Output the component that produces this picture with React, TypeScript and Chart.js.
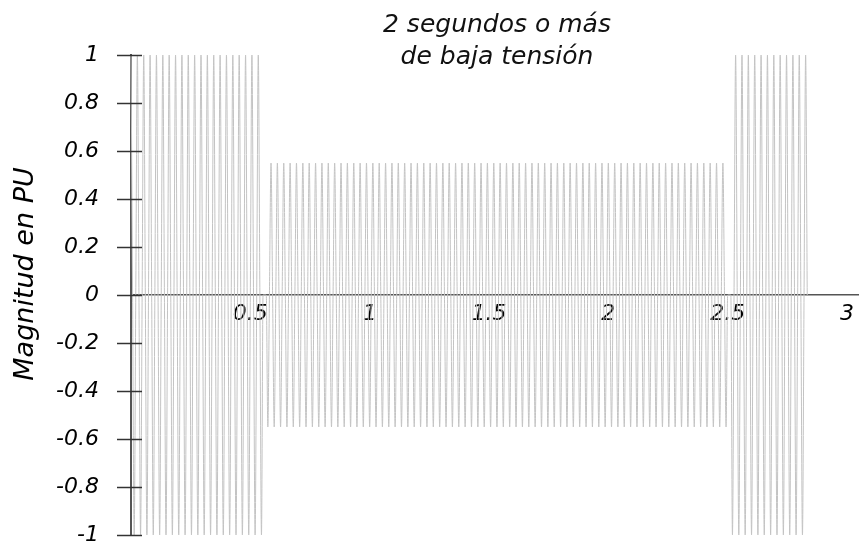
import React, { useEffect, useRef } from "react";
import { Chart, registerables } from "chart.js";

Chart.register(...registerables);

// ---- Data ----
const titleLines = ["2 segundos o más", "de baja tensión"];
const yAxisTitle = "Magnitud en PU";
// waveform envelope: three segments of a sinusoid (normal / sag / normal)
const segmentStarts = [0, 0.562, 2.51];
const segmentEnds = [0.562, 2.51, 2.845];
const segmentAmplitudes = [1, 0.55, 1];
const cyclesPerUnit = [37.5, 37.5, 37.5];
const xTickValues = [0.5, 1, 1.5, 2, 2.5, 3];
const yTickValues = [-1, -0.8, -0.6, -0.4, -0.2, 0, 0.2, 0.4, 0.6, 0.8, 1];
const xMin = 0;
const xMax = 3.05;
const yMin = -1;
const yMax = 1;

const FONT = '"DejaVu Sans", Verdana, sans-serif';

// samples at peaks and zero crossings (quarter cycles) of each segment
function buildWave() {
  const pts: { x: number; y: number }[] = [];
  const shape = [1, 0, -1, 0];
  for (let s = 0; s < segmentStarts.length; s++) {
    const f = cyclesPerUnit[s];
    const a = segmentAmplitudes[s];
    const k0 = Math.ceil(segmentStarts[s] * f * 4);
    const k1 = Math.floor(segmentEnds[s] * f * 4);
    for (let k = k0; k < k1; k++) {
      pts.push({ x: k / (f * 4), y: a * shape[k % 4] });
    }
  }
  return pts;
}

const fmt = (v: number) => String(Math.round(v * 10) / 10);

export default function App() {
  const ref = useRef<HTMLCanvasElement | null>(null);
  useEffect(() => {
    if (!ref.current) return;
    const textPlugin = {
      id: "titles",
      afterDraw(chart: any) {
        const { ctx, chartArea } = chart;
        ctx.save();
        ctx.fillStyle = "#111";
        // two-line chart title
        ctx.font = `italic 25px ${FONT}`;
        ctx.textAlign = "center";
        ctx.textBaseline = "middle";
        const cx = (chartArea.left + chartArea.right) / 2 + 2;
        titleLines.forEach((t, i) => ctx.fillText(t, cx, 25 + i * 32));
        // rotated y-axis title
        ctx.font = `italic 27px ${FONT}`;
        ctx.textBaseline = "alphabetic";
        ctx.translate(33, 274);
        ctx.rotate(-Math.PI / 2);
        ctx.fillStyle = "#000";
        ctx.fillText(yAxisTitle, 0, 0);
        ctx.restore();
      },
    };
    const tickPlugin = {
      id: "crossTicks",
      afterDatasetsDraw(chart: any) {
        const { ctx, chartArea } = chart;
        const ys = chart.scales.y;
        ctx.save();
        ctx.strokeStyle = "#333";
        ctx.lineWidth = 1.5;
        ys.ticks.forEach((t: any) => {
          const py = Math.round(ys.getPixelForValue(t.value)) + 0.5;
          ctx.beginPath();
          ctx.moveTo(chartArea.left - 14, py);
          ctx.lineTo(chartArea.left + 11, py);
          ctx.stroke();
        });
        ctx.restore();
      },
    };
    const chart = new Chart(ref.current, {
      type: "line",
      data: {
        datasets: [
          {
            data: buildWave(),
            borderColor: "rgb(195,195,195)",
            borderWidth: 1,
            pointRadius: 0,
            cubicInterpolationMode: "monotone",
            fill: false,
            clip: false as any,
          },
        ],
      },
      options: {
        animation: false,
        responsive: false,
        parsing: false,
        normalized: true,
        events: [],
        layout: { padding: { top: 55, bottom: 8, left: 0, right: 0 } },
        plugins: {
          legend: { display: false },
          title: { display: false },
          tooltip: { enabled: false },
        },
        scales: {
          x: {
            type: "linear",
            min: xMin,
            max: xMax,
            position: { y: 0 } as any,
            afterBuildTicks: (s: any) => {
              s.ticks = xTickValues.map((v) => ({ value: v }));
            },
            grid: { display: false, drawTicks: false },
            border: { display: true, color: "#555", width: 1.5 },
            ticks: {
              padding: 6,
              color: "#000",
              font: { family: FONT, size: 22, style: "italic" },
              maxRotation: 0,
              autoSkip: false,
              callback: (v: any) => fmt(Number(v)),
            },
          },
          y: {
            type: "linear",
            min: yMin,
            max: yMax,
            afterBuildTicks: (s: any) => {
              s.ticks = yTickValues.map((v) => ({ value: v }));
            },
            afterFit: (s: any) => {
              s.width = 131;
              s.paddingTop = 0;
              s.paddingBottom = 0;
            },
            grid: { display: false, drawTicks: false },
            border: { display: true, color: "#555", width: 2 },
            title: { display: false },
            ticks: {
              padding: 32,
              color: "#000",
              font: { family: FONT, size: 22, style: "italic" },
              autoSkip: false,
              callback: (v: any) => fmt(Number(v)),
            },
          },
        },
      },
      plugins: [textPlugin, tickPlugin],
    });
    return () => chart.destroy();
  }, []);
  return (
    <div style={{ position: "absolute", left: 0, top: 0, width: 860, height: 543, background: "#fff" }}>
      <canvas ref={ref} width={860} height={543} style={{ display: "block" }} />
    </div>
  );
}
